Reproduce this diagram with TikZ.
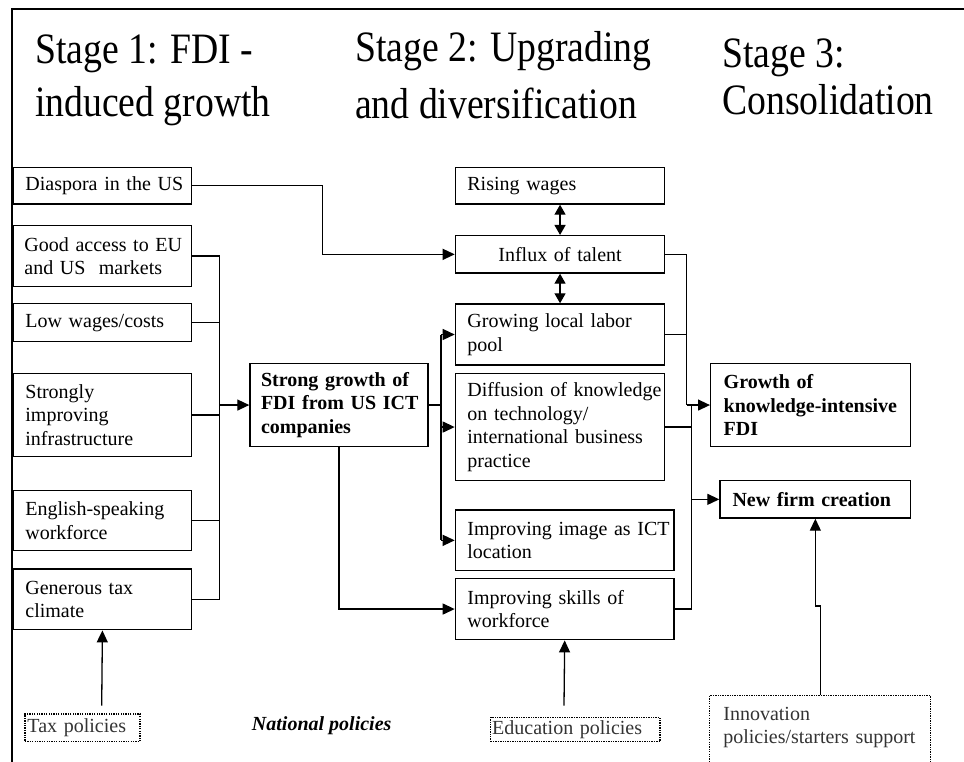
\documentclass[tikz,border=0pt]{standalone}
\usepackage{fontspec}
\setmainfont{Liberation Serif}
\usetikzlibrary{arrows.meta}
\newcommand\oneln[1]{\mbox{#1}}
\newcommand\tallhd[1]{\scalebox{1}[1.15]{#1}}
\begin{document}
\begin{tikzpicture}[x=1pt,y=-1pt,
  every node/.style={inner sep=0pt},
  bx/.style={draw, line width=1.4pt, align=left, anchor=north west,
    inner xsep=12pt, inner ysep=0pt, font=\fontsize{20}{23.5}\selectfont},
  bbx/.style={bx, font=\fontsize{20}{23.5}\selectfont\bfseries},
  pbx/.style={bx, draw=black, dash pattern=on 1.3pt off 1.1pt, line width=1.3pt, text=black!80},
  hd/.style={anchor=base west, font=\fontsize{37.7}{46}\selectfont},
  ln/.style={line width=1.3pt},
  arr/.style={line width=1.3pt, -{Triangle[length=12pt,width=11pt]}},
  dbl/.style={line width=1.3pt, {Triangle[length=10pt,width=11pt]}-{Triangle[length=10pt,width=11pt]}}
]
\useasboundingbox (0,0) rectangle (964,762);
\clip (0,0) rectangle (964,762);

% frame
\draw[line width=1.8pt] (11.7,770) -- (11.7,9) -- (970,9);

% headers
\node[hd] (h1a) at (35,64) {\tallhd{Stage 1: FDI -}};
\node[hd] (h1b) at (35,117) {\tallhd{induced growth}};
\node[hd] (h2a) at (355,62) {\tallhd{Stage 2: Upgrading}};
\node[hd] (h2b) at (355,119) {\tallhd{and diversification}};
\node[hd] (h3a) at (722,68) {\tallhd{Stage 3:}};
\node[hd] (h3b) at (722,115) {\tallhd{Consolidation}};

% left column
\node[bx, text width=154pt, minimum height=36.6pt] (dia) at (12.7,166.7) {\oneln{Diaspora in the US}};
\node[bx, text width=156pt, inner xsep=11pt, minimum height=60.7pt] (acc) at (12.7,225) {\oneln{Good access to EU}\\\oneln{and US\ \ markets}};
\node[bx, text width=154pt, minimum height=38pt] (low) at (12.7,303) {\oneln{Low wages/costs}};
\node[bx, text width=154pt, minimum height=83.3pt] (infra) at (12.7,372.7) {Strongly\\improving\\infrastructure};
\node[bx, text width=154pt, minimum height=60pt] (eng) at (12.7,490) {\oneln{English-speaking}\\workforce};
\node[bx, text width=154pt, minimum height=60.7pt] (tax) at (12.7,568.3) {\oneln{Generous tax}\\climate};

% centre-left
\node[bbx, text width=156pt, inner xsep=11pt, minimum height=83.3pt] (sg) at (249.3,362.7) {\oneln{Strong growth of}\\\oneln{FDI from US ICT}\\companies};

% middle column
\node[bx, text width=185.3pt, minimum height=36.6pt] (rw) at (454.7,166.7) {\oneln{Rising wages}};
\node[bx, align=center, text width=185.3pt, minimum height=37.3pt] (inf) at (454.7,235) {\oneln{Influx of talent}};
\node[bx, text width=185.3pt, minimum height=61pt] (gl) at (454.7,303.3) {\oneln{Growing local labor}\\pool};
\node[bx, text width=185.3pt, minimum height=107.3pt] (dif) at (454.7,372.7) {\oneln{Diffusion of knowledge}\\\oneln{on technology/}\\\oneln{international business}\\practice};
\node[bx, text width=194.6pt, minimum height=60.7pt] (img) at (454.7,509.3) {\oneln{Improving image as ICT}\\location};
\node[bx, text width=194.6pt, minimum height=61.3pt] (sk) at (454.7,577.7) {\oneln{Improving skills of}\\workforce};

% right column
\node[bbx, text width=174pt, inner xsep=13pt, minimum height=83.3pt] (gk) at (710,362.7) {\oneln{Growth of}\\\oneln{knowledge-intensive}\\FDI};
\node[bbx, text width=165.7pt, inner xsep=12.5pt, minimum height=37.3pt] (nf) at (719.3,480) {\oneln{New firm creation}};

% policies
\node[pbx, text width=110pt, inner xsep=2.5pt, minimum height=27.7pt] (taxp) at (24.3,713.3) {\oneln{Tax policies}};
\node[pbx, text width=166.3pt, inner xsep=1.5pt, minimum height=24.3pt] (edu) at (490,716.7) {\oneln{Education policies}};
\node[pbx, text width=193.6pt, inner xsep=13.7pt, minimum height=83.3pt] (inn) at (709,695) {Innovation\\\oneln{policies/starters support}\\\mbox{}};
\node[anchor=base, font=\fontsize{20}{24}\selectfont\bfseries\itshape] (natl) at (321.7,730) {National policies};

% helper coordinates
\coordinate (b1) at (219.3,0);
\coordinate (b2) at (441,0);
\coordinate (dx) at (322.7,0);
\coordinate (b3) at (686.7,0);
\coordinate (b4) at (691.7,0);
\coordinate (taxs) at (101.7,705.7);
\coordinate (edus) at (564,705.7);
\coordinate (jog) at (0,606);

% diaspora -> influx
\draw[arr] (dia.east) -- (dia.east -| dx) |- (inf.west);

% stage 1 factors -> strong growth
\draw[ln] (acc.east) -| (b1 |- tax.east) -- (tax.east);
\draw[ln] (low.east) -- (low.east -| b1);
\draw[ln] (infra.east) -- (infra.east -| b1);
\draw[ln] (eng.east) -- (eng.east -| b1);
\draw[arr] (sg.west -| b1) -- (sg.west);

% strong growth -> stage 2
\draw[ln] (sg.east) -- (sg.east -| b2);
\draw[ln] (gl.west -| b2) -- (img.west -| b2);
\draw[arr] (gl.west -| b2) -- (gl.west);
\draw[arr] (dif.west -| b2) -- (dif.west);
\draw[arr] (img.west -| b2) -- (img.west);
\draw[arr] (sg.south) |- (sk.west);

% double arrows
\draw[dbl] (rw.south) -- (inf.north);
\draw[dbl] (inf.south) -- (gl.north);

% stage 2 -> stage 3
\draw[ln] (inf.east) -| (b3 |- gk.west);
\draw[ln] (gl.east) -- (gl.east -| b3);
\draw[arr] (b3 |- gk.west) -- (gk.west);
\draw[ln] (dif.east) -- (dif.east -| b4);
\draw[ln] (sk.east) -| (b4 |- gk.west);
\draw[arr] (nf.west -| b4) -- (nf.west);

% policies
\draw[arr] (taxs) -- (tax.south);
\draw[arr] (edus) -- (sk.south);
\draw[arr] (inn.north) -- (inn.north |- jog) -- (nf.south |- jog) -- (nf.south);
\end{tikzpicture}
\end{document}
